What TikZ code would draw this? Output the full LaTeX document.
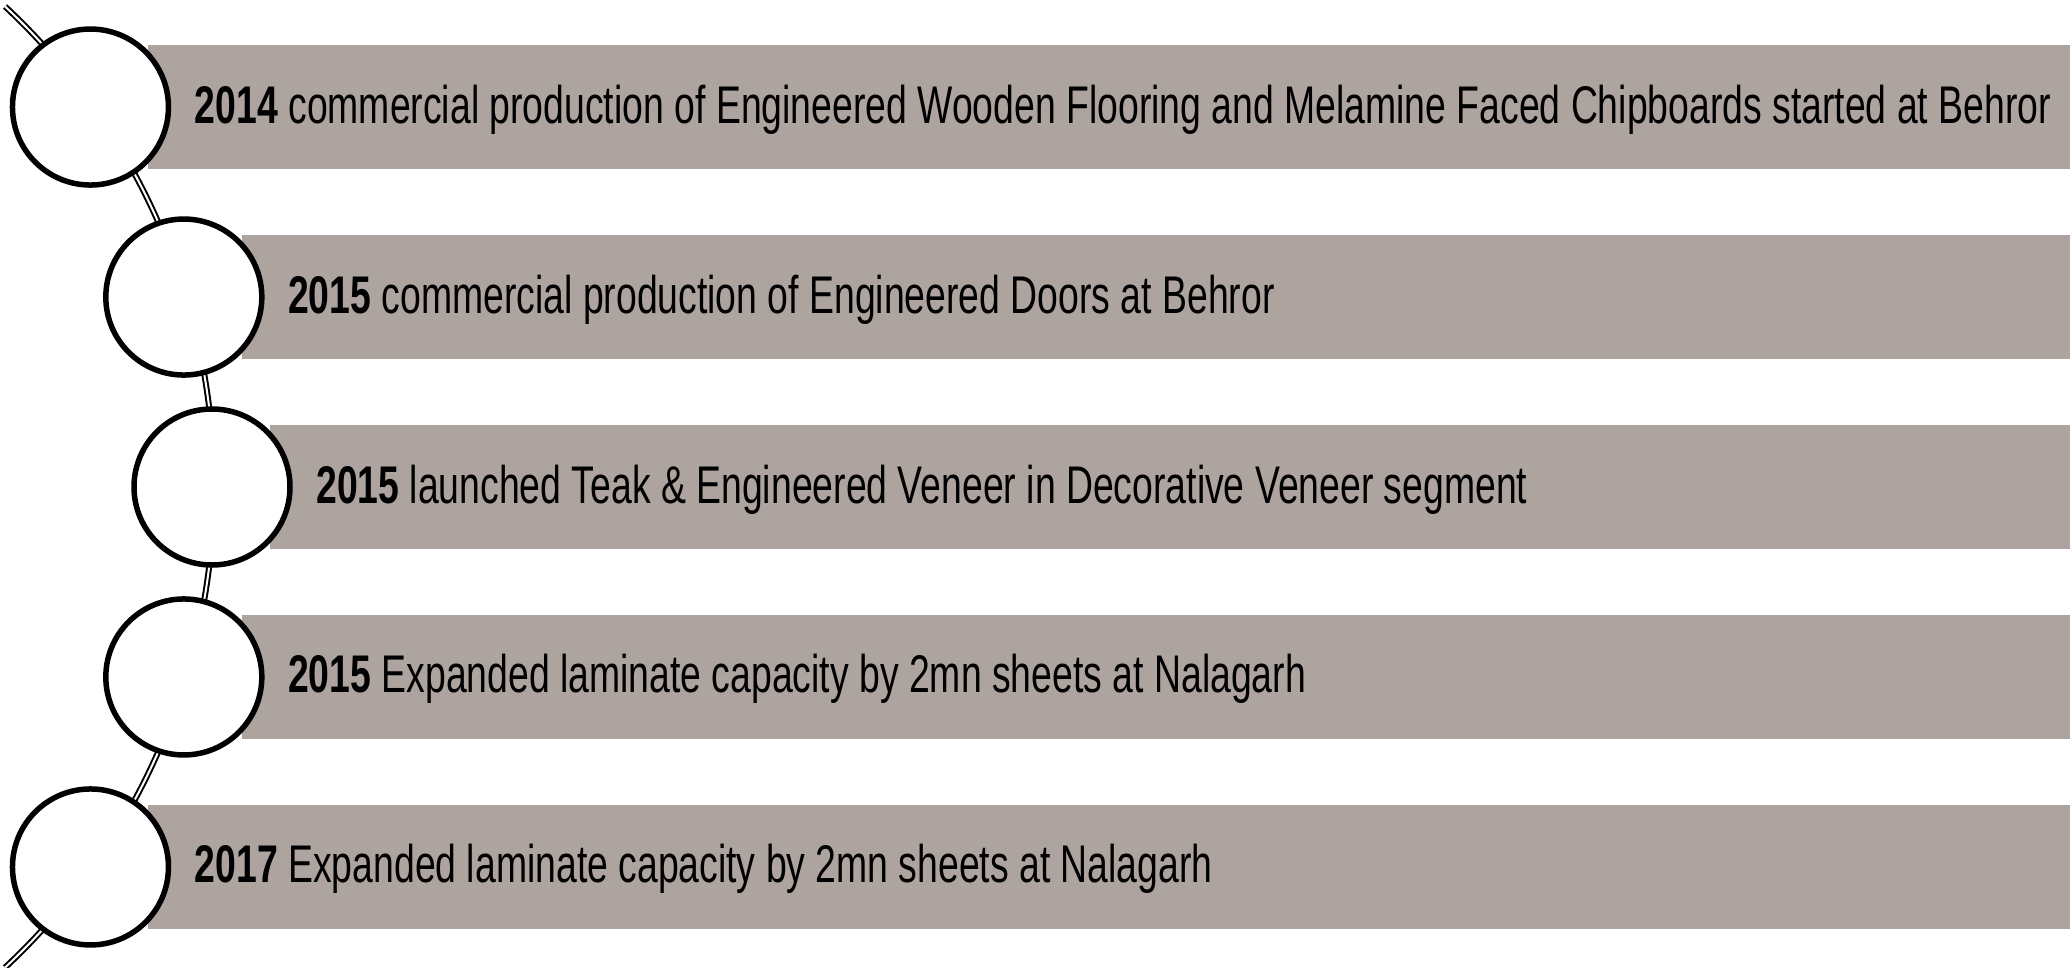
\documentclass[tikz,border=0pt]{standalone}
\usepackage{fontspec}
\setmainfont{Liberation Sans}[FakeStretch=0.705]
\begin{document}
\begin{tikzpicture}[x=0.5pt,y=-0.5pt,
  bar/.style={fill=barfill},
  circ/.style={circle,draw=black,fill=white,line width=2.75pt,minimum size=78pt,inner sep=0pt},
  conn/.style={draw=black,double=white,double distance=1pt,line width=1pt,line cap=butt},
  lbl/.style={anchor=base west,inner sep=0pt,font=\fontsize{26.5}{30}\selectfont,text=black}]
\definecolor{barfill}{RGB}{173,163,159}
\useasboundingbox (0,0) rectangle (2070,968);
% centre of the large arc that carries the circles
\coordinate (arcc) at (-443,487);
\node[circ,draw=none,fill=none] (c1) at ([shift={(-35.46:655)}]arcc) {};
\node[circ,draw=none,fill=none] (c2) at ([shift={(-16.86:655)}]arcc) {};
\node[circ,draw=none,fill=none] (c3) at ([shift={(0:655)}]arcc) {};
\node[circ,draw=none,fill=none] (c4) at ([shift={(16.86:655)}]arcc) {};
\node[circ,draw=none,fill=none] (c5) at ([shift={(35.46:655)}]arcc) {};
% grey bands behind the labels
\foreach \c in {c1,c2,c3,c4,c5}
  \fill[bar] ([shift={(58,-62)}]\c.center) rectangle ++(2200,124);
% the curved double line
\coordinate (arcstart) at ([shift={(-47:657)}]arcc);
\draw[conn] (arcstart) arc[start angle=-47,end angle=47,radius=657];
% circles on top
\foreach \c in {c1,c2,c3,c4,c5}
  \node[circ] (\c o) at (\c.center) {};
% labels
\node[lbl] (t1) at ([shift={(104,16)}]c1.center) {\textbf{2014} commercial production of Engineered Wooden Flooring and Melamine Faced Chipboards started at Behror};
\node[lbl] (t2) at ([shift={(104,16)}]c2.center) {\textbf{2015} commercial production of Engineered Doors at Behror};
\node[lbl] (t3) at ([shift={(104,16)}]c3.center) {\textbf{2015} launched Teak \& Engineered Veneer in Decorative Veneer segment};
\node[lbl] (t4) at ([shift={(104,16)}]c4.center) {\textbf{2015} Expanded laminate capacity by 2mn sheets at Nalagarh};
\node[lbl] (t5) at ([shift={(104,16)}]c5.center) {\textbf{2017} Expanded laminate capacity by 2mn sheets at Nalagarh};
\end{tikzpicture}
\end{document}
